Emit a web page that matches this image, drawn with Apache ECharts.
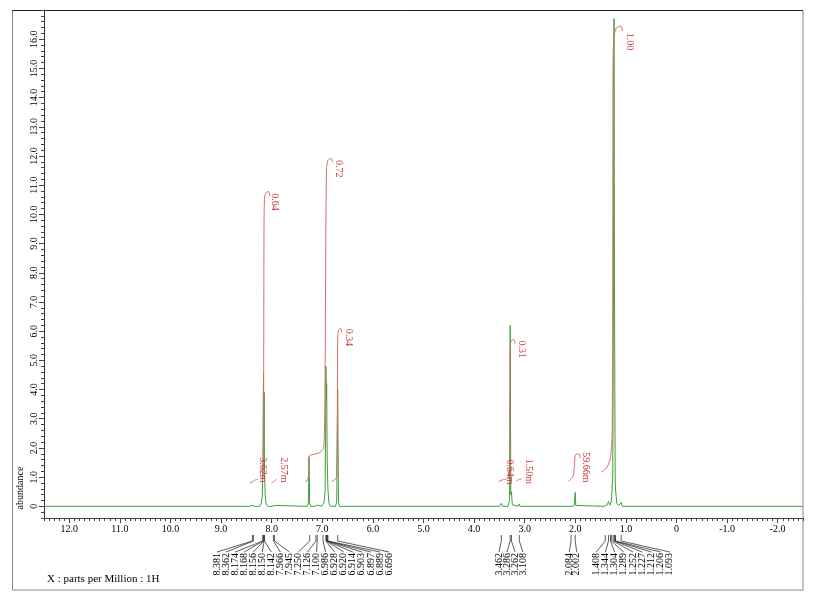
<!DOCTYPE html>
<html>
<head>
<meta charset="utf-8">
<script src="https://cdn.jsdelivr.net/npm/echarts@6/dist/echarts.min.js"></script>
<style>
  html, body { margin: 0; padding: 0; background: #fff; }
  #chart { width: 820px; height: 610px; }
</style>
</head>
<body>
<div id="chart"></div>
<script>
// spectrum trace: [ppm, abundance]
const spectrum = [
  [12.5, 0], [8.45, 0], [8.39, 0.03], [8.381, 0.06], [8.37, 0.02], [8.362, 0.05], [8.34, 0],
  [8.24, 0], [8.21, 0.08], [8.185, 0.35], [8.174, 1.6], [8.168, 3.2], [8.162, 4.6], [8.156, 2.4],
  [8.150, 3.9], [8.142, 1.4], [8.13, 0.4], [8.11, 0.08], [8.08, 0],
  [7.99, 0], [7.966, 0.03], [7.945, 0.03], [7.92, 0],
  [7.30, 0], [7.275, 0.08], [7.262, 1.7], [7.25, 0.1], [7.23, 0],
  [7.14, 0], [7.126, 0.04], [7.100, 0.04], [7.08, 0],
  [7.01, 0], [6.986, 0.08], [6.965, 0.15], [6.945, 0.5], [6.935, 2.4], [6.928, 4.8], [6.920, 3.6],
  [6.914, 4.2], [6.903, 1.6], [6.897, 1.1], [6.889, 0.6], [6.87, 0.12], [6.84, 0],
  [6.74, 0], [6.715, 0.15], [6.696, 4.0], [6.68, 0.15], [6.66, 0],
  [3.50, 0], [3.462, 0.1], [3.43, 0],
  [3.33, 0], [3.30, 0.2], [3.286, 6.2], [3.275, 0.4], [3.262, 0.5], [3.245, 0.05], [3.22, 0],
  [3.13, 0], [3.108, 0.08], [3.09, 0],
  [2.10, 0], [2.084, 0.03], [2.06, 0], [2.02, 0.03], [2.002, 0.48], [1.99, 0.03], [1.97, 0],
  [1.43, 0], [1.408, 0.03], [1.37, 0.05], [1.344, 0.17], [1.32, 0.04], [1.304, 0.08], [1.289, 0.15],
  [1.26, 1.0], [1.252, 4.0], [1.235, 16.7], [1.227, 8.0], [1.212, 1.0], [1.206, 0.6], [1.18, 0.1],
  [1.14, 0.03], [1.093, 0.13], [1.07, 0], [-2.5, 0]
];

// integral curves: [ppm, abundance]
const int362m = [[8.43, 0.80], [8.38, 0.84], [8.33, 0.90], [8.27, 0.93]];
const int064 = [[8.18, 0.88], [8.165, 1.2], [8.158, 5.0], [8.152, 9.5], [8.14, 10.62], [8.10, 10.76], [8.06, 10.78], [8.03, 10.62]];
const int257m = [[8.00, 0.80], [7.96, 0.85], [7.92, 0.90], [7.90, 0.93]];
const int072 = [[7.34, 0.84], [7.30, 0.88], [7.275, 1.0], [7.265, 1.6], [7.255, 1.74], [7.20, 1.77], [7.05, 1.84],
  [6.97, 2.0], [6.945, 4.5], [6.93, 9.5], [6.915, 11.6], [6.89, 11.85], [6.83, 11.92], [6.79, 11.78]];
const int034 = [[6.81, 0.85], [6.76, 0.9], [6.72, 1.0], [6.705, 2.5], [6.695, 5.8], [6.68, 6.02], [6.64, 6.1], [6.61, 5.95]];
const int064m = [[3.52, 0.85], [3.47, 0.88], [3.42, 0.92], [3.36, 0.93]];
const int031 = [[3.34, 0.95], [3.30, 1.0], [3.293, 3.0], [3.287, 5.5], [3.27, 5.66], [3.22, 5.72], [3.19, 5.58]];
const int150m = [[3.17, 0.86], [3.13, 0.90], [3.10, 0.93], [3.06, 0.94]];
const int5966m = [[2.14, 0.86], [2.09, 0.92], [2.04, 1.05], [2.015, 1.4], [2.005, 1.72], [1.97, 1.8], [1.92, 1.78], [1.905, 1.66]];
const int100 = [[1.49, 1.17], [1.42, 1.25], [1.36, 1.38], [1.30, 1.7], [1.27, 2.6], [1.26, 8], [1.255, 15.0],
  [1.24, 16.05], [1.19, 16.38], [1.10, 16.45], [1.065, 16.28]];

// integral values and where they are written: [ppm, abundance]
const integralTexts = ['3.62m', '0.64', '2.57m', '0.72', '0.34', '0.64m', '0.31', '1.50m', '59.66m', '1.00'];
const integralAnchors = [[8.17, 1.68], [7.935, 10.72], [7.77, 1.68], [6.67, 11.86], [6.486, 6.08],
  [3.30, 1.61], [3.06, 5.68], [2.93, 1.63], [1.79, 1.85], [0.92, 16.22]];

// picked peaks, grouped as they are labelled under the axis
const peaks1 = [8.381, 8.362, 8.174, 8.168, 8.156, 8.150, 8.142, 7.966, 7.945, 7.250, 7.126, 7.100,
  6.986, 6.928, 6.920, 6.914, 6.903, 6.897, 6.889, 6.696];
const peaks2 = [3.462, 3.286, 3.262, 3.108];
const peaks3 = [2.084, 2.002];
const peaks4 = [1.408, 1.344, 1.304, 1.289, 1.252, 1.227, 1.212, 1.206, 1.093];

const xLabelValues = [12, 11, 10, 9, 8, 7, 6, 5, 4, 3, 2, 1, 0, -1, -2];
const yLabelValues = [0, 1, 2, 3, 4, 5, 6, 7, 8, 9, 10, 11, 12, 13, 14, 15, 16];

const FONT = '"Liberation Serif", "Times New Roman", serif';
const GREEN = '#3f9f3f';
const RED_LINE = '#e06a6a';
const RED_TEXT = '#cc3333';

// label layout of each peak group under the axis (pixel centre, spacing)
const groupLayout = [
  { center: 303, gap: 9.05 },
  { center: 511, gap: 8 },
  { center: 573, gap: 7.5 },
  { center: 633, gap: 9.2 }
];

const peakRows = [];
[peaks1, peaks2, peaks3, peaks4].forEach((g, gi) => {
  g.forEach((p, i) => peakRows.push([p, gi, i, g.length]));
});

function tickText(v) {
  return v === 0 ? '0' : v.toFixed(1);
}

const integralSeries = [int362m, int064, int257m, int072, int034, int064m, int031, int150m, int5966m, int100]
  .map((d) => ({
    type: 'line',
    data: d,
    showSymbol: false,
    smooth: 0.2,
    silent: true,
    z: 4,
    lineStyle: { color: RED_LINE, width: 1 }
  }));

const myChart = echarts.init(document.getElementById('chart'));
const option = {
  animation: false,
  backgroundColor: '#fff',
  grid: { left: 44, right: 17, top: 10, bottom: 92 },
  xAxis: [
    {
      type: 'value',
      min: -2.5,
      max: 12.5,
      interval: 0.1,
      inverse: true,
      axisLine: { show: true, onZero: false, lineStyle: { color: '#444', width: 1 } },
      axisTick: { show: true, interval: 0, length: 3, lineStyle: { color: '#444' } },
      axisLabel: { show: false },
      splitLine: { show: false }
    },
    {
      type: 'value',
      position: 'bottom',
      min: -2.5,
      max: 12.5,
      inverse: true,
      axisLine: { show: false, onZero: false },
      axisTick: { show: true, customValues: xLabelValues, length: 5, lineStyle: { color: '#444' } },
      axisLabel: {
        customValues: xLabelValues,
        formatter: tickText,
        margin: 6,
        color: '#000',
        fontFamily: FONT,
        fontSize: 10
      },
      splitLine: { show: false }
    }
  ],
  yAxis: [
    {
      type: 'value',
      min: -0.4,
      max: 17,
      interval: 0.2,
      axisLine: { show: true, onZero: false, lineStyle: { color: '#333', width: 1 } },
      axisTick: { show: true, interval: 0, length: 3, lineStyle: { color: '#444' } },
      axisLabel: { show: false },
      splitLine: { show: false }
    },
    {
      type: 'value',
      position: 'left',
      min: -0.4,
      max: 17,
      axisLine: { show: false, onZero: false },
      axisTick: { show: true, customValues: yLabelValues, length: 5, lineStyle: { color: '#444' } },
      axisLabel: {
        customValues: yLabelValues,
        formatter: tickText,
        rotate: 90,
        margin: 5,
        color: '#000',
        fontFamily: FONT,
        fontSize: 10
      },
      splitLine: { show: false }
    }
  ],
  graphic: [
    { type: 'rect', shape: { x: 12.5, y: 10.5, width: 790.5, height: 579.5 }, style: { fill: null, stroke: '#888', lineWidth: 1 }, silent: true },
    { type: 'line', shape: { x1: 12, y1: 10.5, x2: 803, y2: 10.5 }, style: { stroke: '#222', lineWidth: 1 }, silent: true },
    {
      type: 'text', x: 20, y: 488, rotation: Math.PI / 2,
      style: { text: 'abundance', font: '10px ' + FONT, fill: '#000', align: 'center', verticalAlign: 'middle' }
    },
    {
      type: 'text', left: 47, top: 574,
      style: { text: 'X : parts per Million : 1H', font: '11px ' + FONT, fill: '#000' }
    }
  ],
  series: [
    {
      type: 'line',
      data: spectrum,
      showSymbol: false,
      silent: true,
      z: 3,
      lineStyle: { color: GREEN, width: 1 }
    },
    ...integralSeries,
    {
      // integral values, written downward beside each curve
      type: 'custom',
      data: integralAnchors.map((a, i) => [a[0], a[1], i]),
      silent: true,
      z: 6,
      renderItem: function (params, api) {
        const pt = api.coord([api.value(0), api.value(1)]);
        return {
          type: 'text',
          x: pt[0],
          y: pt[1],
          rotation: -Math.PI / 2,
          style: {
            text: integralTexts[api.value(2)],
            font: '10px ' + FONT,
            fill: RED_TEXT,
            align: 'left',
            verticalAlign: 'middle'
          }
        };
      }
    },
    {
      // peak picking labels under the axis
      type: 'custom',
      data: peakRows,
      silent: true,
      clip: false,
      z: 6,
      renderItem: function (params, api) {
        const ppm = api.value(0);
        const lay = groupLayout[api.value(1)];
        const i = api.value(2);
        const n = api.value(3);
        const base = api.coord([ppm, -0.4]);
        const px = base[0];
        const y0 = base[1];
        const lx = lay.center + (i - (n - 1) / 2) * lay.gap;
        return {
          type: 'group',
          children: [
            {
              type: 'polyline',
              shape: { points: [[px, y0 + 17], [px, y0 + 23], [lx, y0 + 34]] },
              style: { stroke: '#333', fill: null, lineWidth: 0.8 }
            },
            {
              type: 'text',
              x: lx,
              y: y0 + 35,
              rotation: Math.PI / 2,
              style: {
                text: ppm.toFixed(3),
                font: '10px ' + FONT,
                fill: '#000',
                align: 'right',
                verticalAlign: 'middle'
              }
            }
          ]
        };
      }
    }
  ]
};
myChart.setOption(option);
</script>
</body>
</html>
